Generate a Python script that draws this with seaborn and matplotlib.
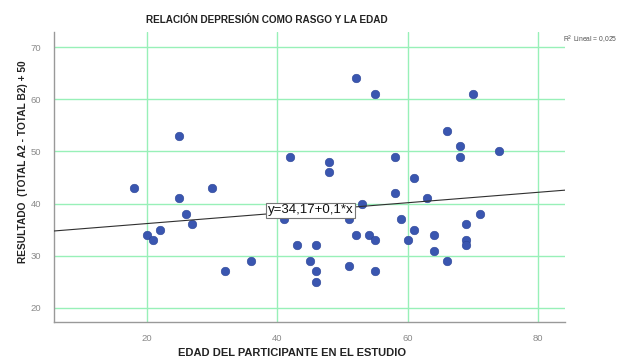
import matplotlib
matplotlib.use("Agg")
import matplotlib.pyplot as plt
import seaborn as sns
import pandas as pd
import numpy as np

# ---- data ----
edad = [18, 20, 21, 22, 25, 25, 26, 27, 30, 32, 36, 41, 42, 43, 45, 46, 46, 46,
        48, 48, 51, 51, 52, 52, 53, 54, 55, 55, 55, 58, 58, 59, 60, 61, 61, 63,
        64, 64, 66, 66, 68, 68, 69, 69, 69, 70, 71, 74]
resultado = [43, 34, 33, 35, 53, 41, 38, 36, 43, 27, 29, 37, 49, 32, 29, 32, 27, 25,
             48, 46, 37, 28, 64, 34, 40, 34, 61, 33, 27, 49, 42, 37, 33, 45, 35, 41,
             34, 31, 54, 29, 51, 49, 36, 33, 32, 61, 38, 50]
intercepto = 34.17
pendiente = 0.1
x_ticks = [20, 40, 60, 80]
y_ticks = [20, 30, 40, 50, 60, 70]
titulo = "RELACIÓN DEPRESIÓN COMO RASGO Y LA EDAD"
x_label = "EDAD DEL PARTICIPANTE EN EL ESTUDIO"
y_label = "RESULTADO  (TOTAL A2 - TOTAL B2) + 50"
ecuacion = "y=34,17+0,1*x"
r2_text = "R$^2$ Lineal = 0,025"

df = pd.DataFrame({"edad": edad, "resultado": resultado})

sns.set_theme(style="white")
plt.rcParams["font.family"] = ["Liberation Sans", "DejaVu Sans"]

fig = plt.figure(figsize=(6.19, 3.6), dpi=100)
ax = fig.add_axes([0.0872, 0.1056, 0.8256, 0.8054])

xlim = (5.8, 84.1)
ylim = (17.3, 72.9)
ax.set_xlim(*xlim)
ax.set_ylim(*ylim)

grid_c = "#98f0b8"
for xv in x_ticks:
    ax.axvline(xv, color=grid_c, lw=1.0, zorder=0)
for yv in y_ticks:
    ax.axhline(yv, color=grid_c, lw=1.0, zorder=0)

sns.scatterplot(data=df, x="edad", y="resultado", ax=ax, color="#3a56b0",
                s=38, edgecolor="#2c4596", linewidth=0.4, zorder=3, legend=False)

xs = np.array(xlim)
line_df = pd.DataFrame({"x": xs, "y": intercepto + pendiente * xs})
sns.lineplot(data=line_df, x="x", y="y", ax=ax, color="#303030", lw=0.8, zorder=4)

lx = 45.1
ax.text(lx, intercepto + pendiente * lx, ecuacion, ha="center", va="center",
        fontsize=9.5, color="#111111", zorder=6,
        bbox=dict(boxstyle="square,pad=0.15", fc="white", ec="#777777", lw=0.8))

ax.set_xticks(x_ticks)
ax.set_yticks(y_ticks)
ax.tick_params(axis="both", labelsize=6.8, colors="#8a8a8a", length=0, pad=9)
ax.set_xlabel("")
ax.set_ylabel("")

for s in ["top", "right"]:
    ax.spines[s].set_visible(False)
for s in ["left", "bottom"]:
    ax.spines[s].set_color("#999999")
    ax.spines[s].set_linewidth(1.0)

fig.text(267 / 619, 1 - 20 / 360, titulo, ha="center", va="center",
         fontsize=7.2, fontweight="bold", color="#222222")
fig.text(292 / 619, 1 - 353 / 360, x_label, ha="center", va="center",
         fontsize=8, fontweight="bold", color="#222222")
fig.text(23 / 619, 1 - 162 / 360, y_label, ha="center", va="center",
         rotation=90, fontsize=7.3, fontweight="bold", color="#222222")
fig.text(563 / 619, 1 - 40 / 360, r2_text, ha="left", va="center",
         fontsize=4.9, color="#555555")

fig.savefig("out.png", dpi=100)
